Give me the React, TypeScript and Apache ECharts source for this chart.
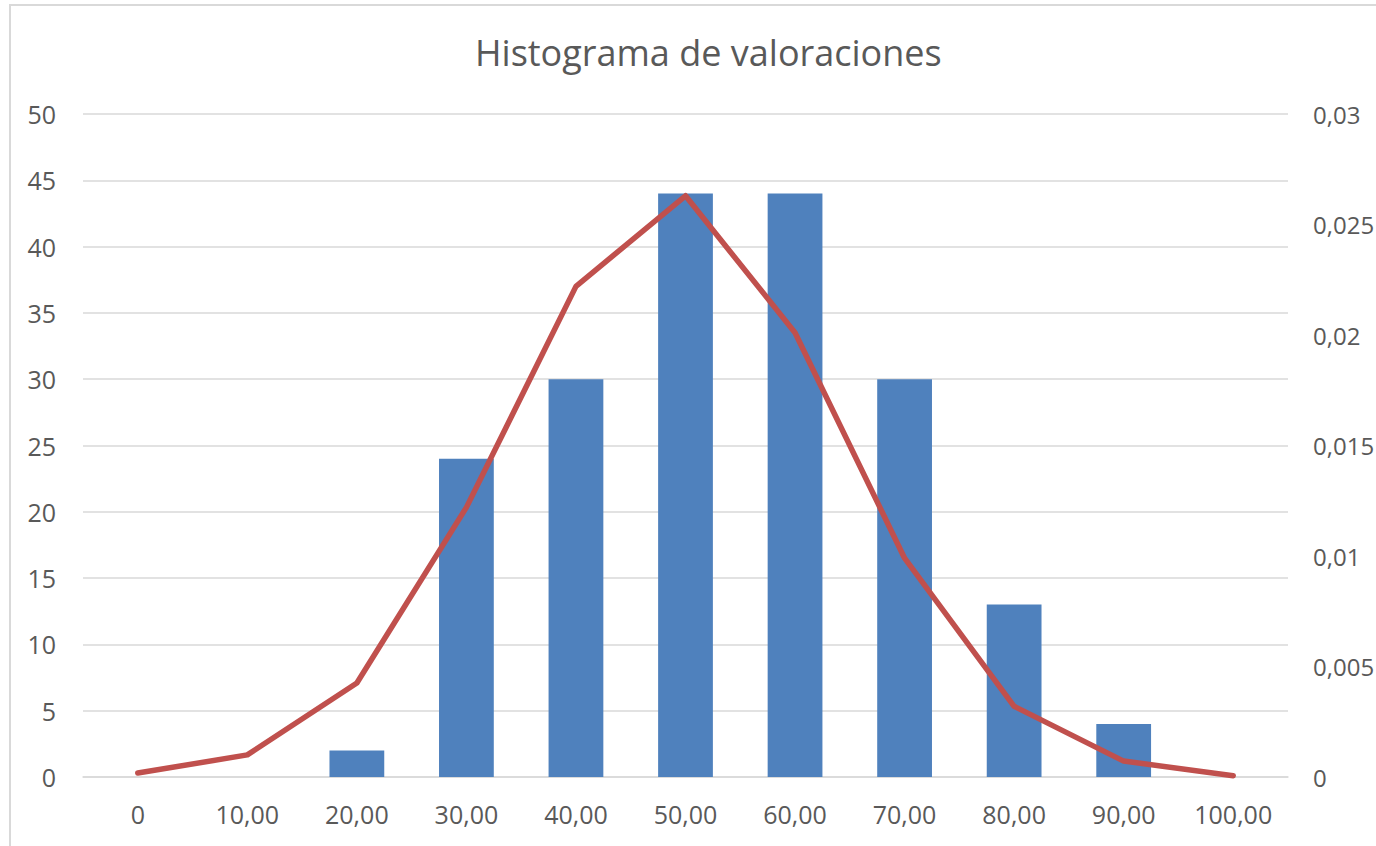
import React, { useEffect, useRef } from "react";
import * as echarts from "echarts";

const categories = ["0", "10,00", "20,00", "30,00", "40,00", "50,00", "60,00", "70,00", "80,00", "90,00", "100,00"];
const frequencies = [0, 0, 2, 24, 30, 44, 44, 30, 13, 4, 0];
const density = [0.00018, 0.001, 0.00425, 0.0122, 0.0222, 0.0263, 0.0201, 0.0099, 0.0032, 0.00072, 0.00006];
const titleText = "Histograma de valoraciones";

const FONT = "'Open Sans', 'Noto Sans', sans-serif";
const TEXT = "#595959";

export default function App() {
  const ref = useRef<HTMLDivElement>(null);
  useEffect(() => {
    if (!ref.current) return;
    const chart = echarts.init(ref.current, undefined, { renderer: "svg" });
    chart.setOption({
      animation: false,
      backgroundColor: "#ffffff",
      title: {
        text: titleText,
        left: 470,
        top: 29,
        textStyle: { fontFamily: FONT, fontSize: 36, fontWeight: "normal", color: TEXT },
      },
      grid: { left: 83, right: 88, top: 114, bottom: 69, containLabel: false, outerBoundsMode: "none" },
      xAxis: {
        type: "category",
        data: categories,
        axisLine: { show: true, lineStyle: { color: "#d9d9d9", width: 1.5 } },
        axisTick: { show: false },
        axisLabel: { color: TEXT, fontFamily: FONT, fontSize: 25, margin: 24, interval: 0 },
      },
      yAxis: [
        {
          type: "value",
          min: 0,
          max: 50,
          interval: 5,
          axisLine: { show: false },
          axisTick: { show: false },
          splitLine: { lineStyle: { color: "#d9d9d9", width: 1.5 } },
          axisLabel: { color: TEXT, fontFamily: FONT, fontSize: 25, margin: 27 },
        },
        {
          type: "value",
          min: 0,
          max: 0.03,
          interval: 0.005,
          axisLine: { show: false },
          axisTick: { show: false },
          splitLine: { show: false },
          axisLabel: {
            color: TEXT,
            fontFamily: FONT,
            fontSize: 24,
            margin: 25,
            formatter: (v: number) => (v === 0 ? "0" : String(+v.toFixed(3)).replace(".", ",")),
          },
        },
      ],
      series: [
        {
          type: "bar",
          data: frequencies,
          yAxisIndex: 0,
          barWidth: "50%",
          itemStyle: { color: "#4F81BD" },
        },
        {
          type: "line",
          data: density,
          yAxisIndex: 1,
          symbol: "none",
          lineStyle: { color: "#C0504D", width: 5.5, cap: "round", join: "round" },
        },
      ],
    });
    return () => chart.dispose();
  }, []);
  return (
    <div style={{ position: "fixed", left: 0, top: 0, width: 1376, height: 846, background: "#fff" }}>
      <div ref={ref} style={{ position: "absolute", left: 0, top: 0, width: 1376, height: 846 }} />
      <div
        style={{
          position: "absolute",
          left: 9,
          top: 4,
          width: 1376,
          height: 846,
          border: "2px solid #d9d9d9",
          boxSizing: "border-box",
          pointerEvents: "none",
        }}
      />
    </div>
  );
}
